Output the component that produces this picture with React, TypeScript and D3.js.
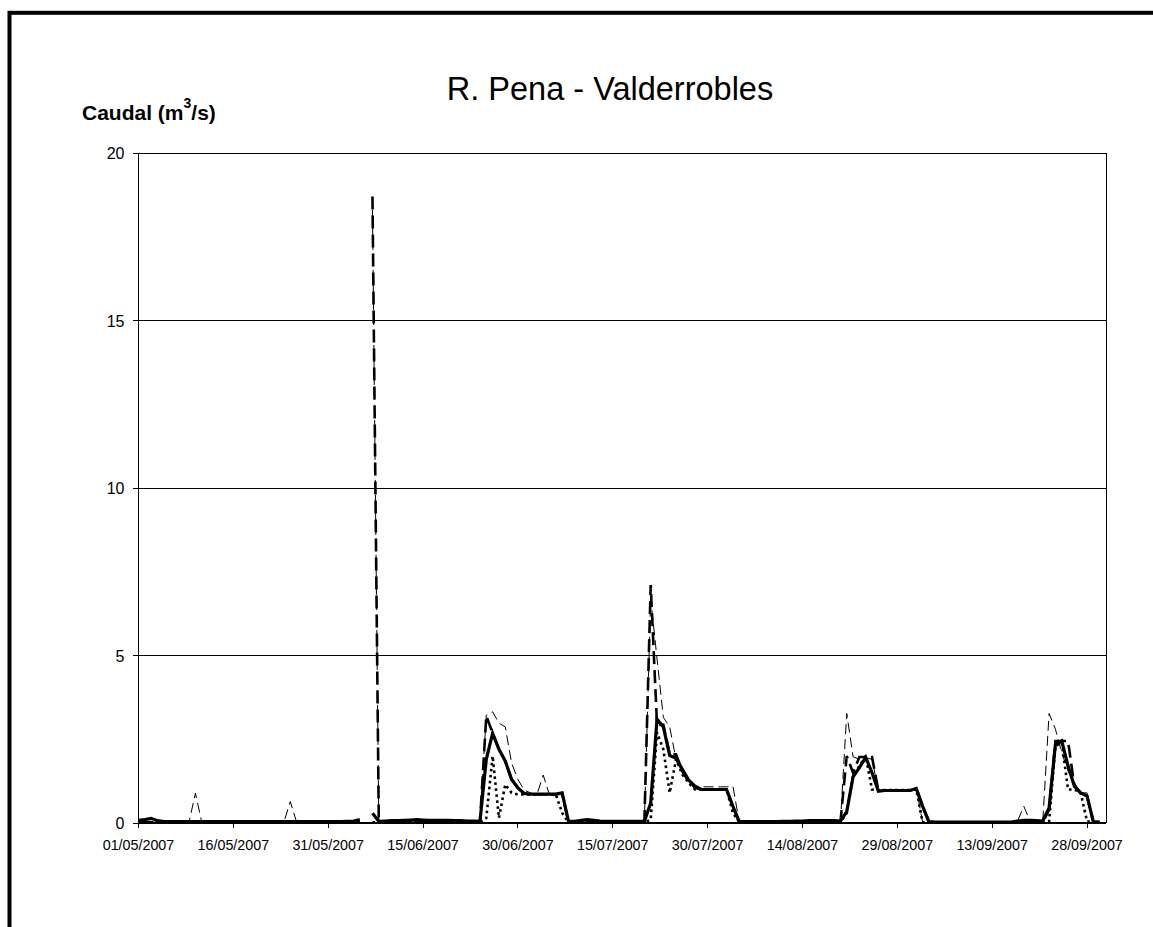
import React from "react";
import * as d3 from "d3";

// ---------- DATA ----------
const START = new Date(2007, 4, 1);
const END = new Date(2007, 9, 1);
const days: Date[] = d3.timeDay.range(START, END); // 01/05/2007 .. 30/09/2007

const title = "R. Pena - Valderrobles";
const yTicks = [0, 5, 10, 15, 20];
const tickEveryDays = 15;

// thick solid series
const serieSolid: (number | null)[] = [
  0.08, 0.10, 0.14, 0.07, 0.04, 0.04, 0.04, 0.04, 0.04, 0.04,
  0.04, 0.04, 0.04, 0.04, 0.04, 0.04, 0.04, 0.04, 0.04, 0.04,
  0.04, 0.04, 0.04, 0.04, 0.04, 0.04, 0.04, 0.04, 0.04, 0.04,
  0.04, 0.04, 0.04, 0.05, 0.06, 0.10, null, 0.29, 0.05, 0.06,
  0.07, 0.07, 0.08, 0.09, 0.10, 0.09, 0.08, 0.08, 0.08, 0.08,
  0.07, 0.07, 0.06, 0.06, 0.05, 1.90, 2.68, 2.20, 1.85, 1.30,
  1.05, 0.88, 0.86, 0.86, 0.86, 0.86, 0.86, 0.90, 0.05, 0.05,
  0.08, 0.10, 0.08, 0.06, 0.05, 0.05, 0.05, 0.05, 0.05, 0.05,
  0.05, 0.60, 3.10, 2.87, 2.02, 1.93, 1.60, 1.28, 1.10, 1.00,
  1.00, 1.00, 1.00, 1.00, 0.50, 0.04, 0.04, 0.04, 0.04, 0.04,
  0.04, 0.04, 0.05, 0.05, 0.06, 0.06, 0.07, 0.07, 0.07, 0.07,
  0.07, 0.06, 0.34, 1.38, 1.65, 1.96, 1.50, 0.95, 0.97, 0.97,
  0.97, 0.97, 0.97, 1.03, 0.50, 0.04, 0.03, 0.03, 0.03, 0.03,
  0.03, 0.03, 0.03, 0.03, 0.03, 0.03, 0.03, 0.03, 0.03, 0.06,
  0.08, 0.08, 0.07, 0.06, 0.45, 2.35, 2.45, 1.70, 1.10, 0.90,
  0.80, 0.04, 0.03,
];

// thin long-dashed series
const serieThinDash: (number | null)[] = [
  0.03, 0.03, 0.03, 0.03, 0.03, 0.03, 0.03, 0.03, 0.03, 0.89,
  0.03, 0.03, 0.03, 0.03, 0.03, 0.03, 0.03, 0.03, 0.03, 0.03,
  0.03, 0.03, 0.03, 0.03, 0.64, 0.03, 0.03, 0.03, 0.03, 0.03,
  0.03, 0.03, 0.03, 0.03, 0.03, 0.03, null, 18.3, 0.05, 0.05,
  0.06, 0.06, 0.06, 0.06, 0.06, 0.06, 0.06, 0.06, 0.06, 0.06,
  0.05, 0.05, 0.05, 0.05, 0.05, 3.22, 3.32, 2.98, 2.87, 1.79,
  1.30, 0.98, 0.90, 0.84, 1.43, 0.84, 0.84, 0.86, 0.03, 0.03,
  0.03, 0.03, 0.03, 0.03, 0.03, 0.03, 0.03, 0.03, 0.03, 0.03,
  0.05, 6.70, 4.90, 3.15, 2.87, 1.90, 1.50, 1.20, 1.08, 1.08,
  1.08, 1.08, 1.08, 1.08, 1.10, 0.03, 0.03, 0.03, 0.03, 0.03,
  0.03, 0.03, 0.03, 0.03, 0.03, 0.03, 0.03, 0.03, 0.03, 0.03,
  0.03, 0.03, 3.27, 1.98, 1.90, 1.95, 1.90, 0.98, 0.98, 0.98,
  0.98, 0.98, 1.00, 1.05, 0.02, 0.02, 0.02, 0.02, 0.02, 0.02,
  0.02, 0.02, 0.02, 0.02, 0.02, 0.02, 0.02, 0.02, 0.02, 0.05,
  0.50, 0.05, 0.04, 0.05, 3.27, 2.80, 2.10, 1.55, 1.20, 0.90,
  0.90, 0.02, 0.02,
];

// thick short-dashed series
const serieThickDash: (number | null)[] = [
  0.02, 0.02, 0.02, 0.02, 0.02, 0.02, 0.02, 0.02, 0.02, 0.02,
  0.02, 0.02, 0.02, 0.02, 0.02, 0.02, 0.02, 0.02, 0.02, 0.02,
  0.02, 0.02, 0.02, 0.02, 0.02, 0.02, 0.02, 0.02, 0.02, 0.02,
  0.02, 0.02, 0.02, 0.02, 0.02, 0.02, null, 18.7, 0.02, 0.02,
  0.02, 0.02, 0.02, 0.02, 0.02, 0.02, 0.02, 0.02, 0.02, 0.02,
  0.02, 0.02, 0.02, 0.02, 0.02, 3.20, 2.68, 2.20, 1.85, 1.30,
  1.05, 0.88, 0.86, 0.86, 0.86, 0.86, 0.86, 0.88, 0.02, 0.02,
  0.02, 0.02, 0.02, 0.02, 0.02, 0.02, 0.02, 0.02, 0.02, 0.02,
  0.02, 7.10, 2.93, 2.93, 2.05, 2.05, 1.55, 1.25, 1.05, 1.00,
  1.00, 1.00, 1.00, 1.00, 0.50, 0.02, 0.02, 0.02, 0.02, 0.02,
  0.02, 0.02, 0.02, 0.02, 0.02, 0.02, 0.02, 0.02, 0.02, 0.02,
  0.02, 0.02, 2.00, 1.50, 1.97, 1.97, 1.97, 0.97, 0.97, 0.97,
  0.97, 0.97, 0.97, 1.03, 0.50, 0.02, 0.02, 0.02, 0.02, 0.02,
  0.02, 0.02, 0.02, 0.02, 0.02, 0.02, 0.02, 0.02, 0.02, 0.02,
  0.02, 0.02, 0.02, 0.02, 0.40, 2.45, 2.45, 2.45, 1.10, 0.90,
  0.80, 0.02, 0.02,
];

// dotted series
const serieDotted: (number | null)[] = [
  0.02, 0.02, 0.02, 0.02, 0.02, 0.02, 0.02, 0.02, 0.02, 0.02,
  0.02, 0.02, 0.02, 0.02, 0.02, 0.02, 0.02, 0.02, 0.02, 0.02,
  0.02, 0.02, 0.02, 0.02, 0.02, 0.02, 0.02, 0.02, 0.02, 0.02,
  0.02, 0.02, 0.02, 0.02, 0.02, 0.02, null, 0.02, 0.02, 0.02,
  0.02, 0.02, 0.02, 0.02, 0.02, 0.02, 0.02, 0.02, 0.02, 0.02,
  0.02, 0.02, 0.02, 0.02, 0.02, 0.15, 2.00, 0.15, 1.15, 0.90,
  0.85, 0.85, 0.85, 0.85, 0.85, 0.85, 0.85, 0.30, 0.02, 0.02,
  0.02, 0.02, 0.02, 0.02, 0.02, 0.02, 0.02, 0.02, 0.02, 0.02,
  0.02, 0.10, 2.70, 2.20, 0.90, 1.90, 1.45, 1.20, 1.00, 1.00,
  1.00, 1.00, 1.00, 1.00, 0.30, 0.02, 0.02, 0.02, 0.02, 0.02,
  0.02, 0.02, 0.02, 0.02, 0.02, 0.02, 0.02, 0.02, 0.02, 0.02,
  0.02, 0.02, 0.30, 1.40, 1.70, 2.00, 1.00, 0.98, 0.98, 0.98,
  0.98, 0.98, 0.98, 1.00, 0.02, 0.02, 0.02, 0.02, 0.02, 0.02,
  0.02, 0.02, 0.02, 0.02, 0.02, 0.02, 0.02, 0.02, 0.02, 0.02,
  0.02, 0.02, 0.02, 0.02, 0.05, 2.30, 2.40, 1.00, 1.00, 0.90,
  0.05, 0.02, 0.02,
];

// ---------- LAYOUT ----------
const W = 1153;
const H = 927;
const PL = 138.5;
const PR = 1106;
const PT = 153;
const PB = 823;
const FONT = "'Liberation Sans', Arial, Helvetica, sans-serif";

export default function App() {
  const x = d3.scaleTime().domain([START, END]).range([PL, PR]);
  const y = d3.scaleLinear().domain([0, 20]).range([PB, PT]);

  const makePath = (vals: (number | null)[]) =>
    d3
      .line<number | null>()
      .defined((v) => v !== null && v !== undefined)
      .x((_, i) => x(days[i]))
      .y((v) => y(v as number))(vals) || "";

  const fmt = d3.timeFormat("%d/%m/%Y");
  const xTicks = days.filter((_, i) => i % tickEveryDays === 0);

  return (
    <svg
      width={W}
      height={H}
      style={{ position: "absolute", left: 0, top: 0, background: "#fff" }}
      fontFamily={FONT}
    >
      <rect x={0} y={0} width={W} height={H} fill="#fff" />
      {/* outer frame */}
      <rect x={9.5} y={12.8} width={1400} height={1200} fill="none" stroke="#000" strokeWidth={4} />

      <defs>
        <clipPath id="plotClip">
          <rect x={PL} y={PT - 2} width={PR - PL} height={PB - PT + 4} />
        </clipPath>
      </defs>

      {/* title */}
      <text x={610} y={99.5} textAnchor="middle" fontSize={32.5} fill="#000">
        {title}
      </text>

      {/* axis title */}
      <text x={82} y={120} fontSize={21} fontWeight="bold" fill="#000">
        Caudal (m
        <tspan fontSize={14} dy={-12}>3</tspan>
        <tspan dy={12}>/s)</tspan>
      </text>

      {/* gridlines */}
      {yTicks.map((t) => (
        <line key={"g" + t} x1={PL} x2={PR} y1={y(t)} y2={y(t)} stroke="#000" strokeWidth={1} shapeRendering="crispEdges" />
      ))}
      {/* plot border right */}
      <line x1={PR} x2={PR} y1={PT} y2={PB} stroke="#000" strokeWidth={1} shapeRendering="crispEdges" />
      {/* y axis */}
      <line x1={PL} x2={PL} y1={PT} y2={PB} stroke="#000" strokeWidth={1.3} shapeRendering="crispEdges" />
      {yTicks.map((t) => (
        <g key={"yt" + t}>
          <line x1={PL - 6} x2={PL} y1={y(t)} y2={y(t)} stroke="#000" strokeWidth={1} shapeRendering="crispEdges" />
          <text x={124.5} y={y(t) + 6} textAnchor="end" fontSize={16} fill="#000">
            {t}
          </text>
        </g>
      ))}
      {/* x axis */}
      <line x1={PL} x2={PR} y1={PB} y2={PB} stroke="#000" strokeWidth={1.3} shapeRendering="crispEdges" />
      {xTicks.map((d, i) => (
        <g key={"xt" + i}>
          <line x1={x(d)} x2={x(d)} y1={PB} y2={PB + 5} stroke="#000" strokeWidth={1} shapeRendering="crispEdges" />
          <text x={x(d)} y={850} textAnchor="middle" fontSize={14.3} fill="#000">
            {fmt(d)}
          </text>
        </g>
      ))}

      {/* series */}
      <g clipPath="url(#plotClip)" fill="none" stroke="#000" strokeLinejoin="miter">
        <path d={makePath(serieThinDash)} strokeWidth={1} strokeDasharray="10,5" />
        <path d={makePath(serieThickDash)} strokeWidth={2.6} strokeDasharray="13,6" />
        <path d={makePath(serieDotted)} strokeWidth={2.6} strokeDasharray="2.6,3.4" />
        <path d={makePath(serieSolid)} strokeWidth={3.2} />
      </g>
    </svg>
  );
}
